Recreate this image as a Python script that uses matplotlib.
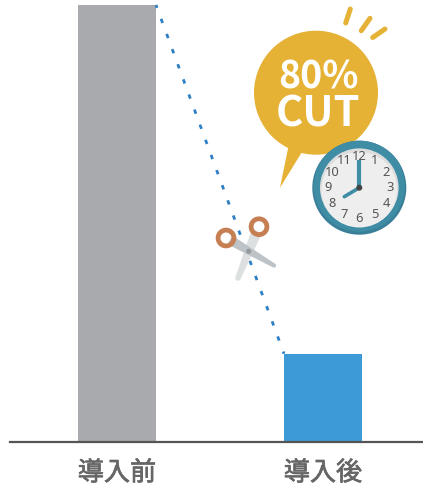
import numpy as np
import matplotlib
matplotlib.use("Agg")
import matplotlib.pyplot as plt
import matplotlib.patheffects as pe
from matplotlib.patches import Circle, Polygon, Wedge

categories = ["導入前", "導入後"]
values = [100, 20.2]
bar_colors = ["#A9AAAD", "#3E9AD6"]
callout_lines = ["80%", "CUT"]
clock_numbers = ["12", "1", "2", "3", "4", "5", "6", "7", "8", "9", "10", "11"]

W, H = 423, 486
plt.rcParams["font.family"] = ["Noto Sans CJK JP", "DejaVu Sans"]
fig = plt.figure(figsize=(W / 100, H / 100), dpi=100)

# chart axes: baseline at y=442 px, from x=9 to right edge
ax = fig.add_axes([10 / W, (H - 442) / H, (W - 10) / W, 442 / H])
spacing = 206.0
bar_w = 78 / spacing
ax.set_xlim((10 - 117) / spacing, (W - 117) / spacing)
ax.set_ylim(0, 100 * 442 / 437)
xs = np.arange(len(values))
ax.bar(xs, values, width=bar_w, color=bar_colors, zorder=2)
ax.plot([xs[0] + bar_w / 2, xs[1] - bar_w / 2], values, color="#2F7FC5", lw=2.0,
        linestyle=(0.5, (1.6, 4.2)), zorder=3, clip_on=False, dash_capstyle="butt")
ax.set_xticks(xs, categories, fontsize=18.8, color="#666666")
for t in ax.get_xticklabels():
    t.set_path_effects([pe.withStroke(linewidth=0.5, foreground="#666666")])
ax.tick_params(axis="x", length=0, pad=12.5)
ax.set_yticks([])
for s in ["top", "left", "right"]:
    ax.spines[s].set_visible(False)
ax.spines["bottom"].set_color("#555555")
ax.spines["bottom"].set_linewidth(1.6)
ax.patch.set_alpha(0)

# decoration overlay in pixel coordinates
ov = fig.add_axes([0, 0, 1, 1])
ov.set_xlim(0, W)
ov.set_ylim(H, 0)
ov.axis("off")
ov.patch.set_alpha(0)

gold = "#E6B236"
ov.add_patch(Circle((316, 92.7), 62, color=gold, lw=0, zorder=1))
ov.add_patch(Polygon([(288.5, 146), (280, 187.7), (302, 152)], color=gold, lw=0, zorder=1))
for (x0, y0, x1, y1) in [(345.7, 23, 350.3, 9), (361.3, 30.7, 370, 18.3), (372.7, 37.5, 385, 29)]:
    ov.plot([x0, x1], [y0, y1], color=gold, lw=3.6, solid_capstyle="round", zorder=1)
ov.text(318.5, 77, callout_lines[0], color="white", fontsize=27, fontweight="bold",
        ha="center", va="center", zorder=2)
ov.text(318, 114, callout_lines[1], color="white", fontsize=30, fontweight="bold",
        ha="center", va="center", zorder=2)

# clock
cx, cy = 359.3, 187.7
ov.add_patch(Circle((cx, cy), 47, color="#3A7F97", lw=0, zorder=3))
ov.add_patch(Circle((cx, cy - 1.5), 45.5, color="#3F8CA5", lw=0, zorder=3))
ov.add_patch(Circle((cx, cy), 39.3, color="#DDDDDE", lw=0, zorder=4))
ov.add_patch(Circle((cx, cy + 2), 37.8, color="#EEEEEF", lw=0, zorder=4))
for i, n in enumerate(clock_numbers):
    a = np.deg2rad(i * 30)
    ov.text(cx + 31 * np.sin(a), cy - 31 * np.cos(a), n, color="#555555", fontsize=9.3,
            family="Noto Sans", fontweight="light", ha="center", va="center", zorder=5)
ov.plot([cx, cx], [cy, cy - 28], color="#3F8CA5", lw=3, solid_capstyle="butt", zorder=6)
ov.plot([cx, cx - 15], [cy, cy + 9], color="#3F8CA5", lw=2.6, solid_capstyle="round", zorder=6)
ov.add_patch(Circle((cx, cy), 3, color="#444444", lw=0, zorder=7))


def blade(p0, p1, w0, w1, color, z):
    p0, p1 = np.array(p0, float), np.array(p1, float)
    d = (p1 - p0) / np.hypot(*(p1 - p0))
    n = np.array([-d[1], d[0]])
    ov.add_patch(Polygon([p0 + n * w0 / 2, p1 + n * w1 / 2, p1 - n * w1 / 2, p0 - n * w0 / 2],
                         color=color, lw=0, zorder=z))
    ov.add_patch(Circle(p1, w1 / 2, color=color, lw=0, zorder=z))


# scissors
blade((257, 231), (238, 278), 11, 5.5, "#DDE0E1", 8)
blade((230, 240), (274, 265.5), 10, 4.2, "#BEC3C7", 9)
for c in [(226, 238), (259, 226.7)]:
    ov.add_patch(Wedge(c, 10.3, 0, 360, width=4.8, color="#C67F53", lw=0, zorder=10))
ov.add_patch(Circle((248.7, 251.3), 2.6, color="#959A9E", lw=0, zorder=11))

fig.savefig("out.png", dpi=100)
